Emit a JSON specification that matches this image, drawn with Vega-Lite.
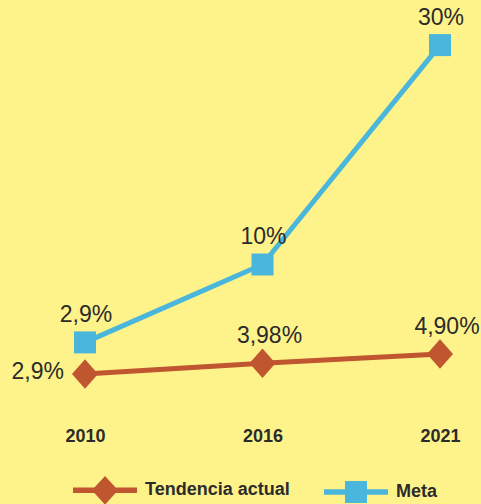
{
  "$schema": "https://vega.github.io/schema/vega-lite/v6.json",
  "autosize": {"type": "none"},
  "padding": {"left": 0, "top": 0, "right": 0, "bottom": 84},
  "width": 481,
  "height": 420,
  "background": "#FEF38A",
  "config": {
    "font": "Liberation Sans",
    "view": {"stroke": null}
  },
  "data": {
    "values": [
      {"anio": "2010", "serie": "Tendencia actual", "valor": 2.9, "etiqueta": "2,9%"},
      {"anio": "2016", "serie": "Tendencia actual", "valor": 3.98, "etiqueta": "3,98%"},
      {"anio": "2021", "serie": "Tendencia actual", "valor": 4.9, "etiqueta": "4,90%"},
      {"anio": "2010", "serie": "Meta", "valor": 2.9, "etiqueta": "2,9%"},
      {"anio": "2016", "serie": "Meta", "valor": 10, "etiqueta": "10%"},
      {"anio": "2021", "serie": "Meta", "valor": 30, "etiqueta": "30%"}
    ]
  },
  "layer": [
    {
      "transform": [{"filter": "datum.serie === 'Tendencia actual'"}],
      "encoding": {
        "x": {
          "field": "anio", "type": "ordinal",
          "scale": {"type": "point", "range": [85, 440], "padding": 0},
          "axis": {"title": null, "domain": false, "ticks": false, "labelAngle": 0, "labelFontSize": 18, "labelFontWeight": "bold", "labelColor": "#2B2B2B", "labelBaseline": "middle", "labelPadding": 16}
        },
        "y": {
          "field": "valor", "type": "quantitative",
          "scale": {"domain": [-1.7, 40.3], "zero": false, "nice": false},
          "axis": null
        }
      },
      "layer": [
        {
          "mark": {"type": "line", "strokeWidth": 5},
          "encoding": {
            "color": {"field": "serie", "type": "nominal", "scale": {"domain": ["Tendencia actual", "Meta"], "range": ["#C0562F", "#4BB6DC"]}}
          }
        },
        {
          "mark": {"type": "point", "filled": true, "opacity": 1, "size": 784, "shape": "M0,-1.05L0.93,0L0,1.05L-0.93,0Z"},
          "encoding": {
            "color": {
              "field": "serie", "type": "nominal",
              "scale": {"domain": ["Tendencia actual", "Meta"], "range": ["#C0562F", "#4BB6DC"]},
              "legend": {
                "title": null, "orient": "none", "legendX": 73, "legendY": 458, "direction": "horizontal",
                "symbolSize": 4096, "symbolStrokeWidth": 0, "labelOffset": 8, "columnPadding": 34, "padding": 0,
                "labelFontSize": 18, "labelFontWeight": "bold", "labelColor": "#2B2B2B", "labelLimit": 300,
                "symbolOpacity": 1, "symbolFillColor": "#C0562F",
                "encode": {
                  "symbols": {
                    "update": {
                      "shape": {"signal": "datum.value === 'Meta' ? 'M-1,-0.086H1V0.086H-1Z M-0.344,-0.344H0.344V0.344H-0.344Z' : 'M-1,-0.086H1V0.086H-1Z M0,-0.45L0.41,0L0,0.45L-0.41,0Z'"},
                      "fill": {"signal": "datum.value === 'Meta' ? '#4BB6DC' : '#C0562F'"},
                      "opacity": {"value": 1},
                      "fillOpacity": {"value": 1}
                    }
                  }
                }
              }
            }
          }
        },
        {
          "transform": [{"filter": "datum.anio === '2010'"}],
          "mark": {"type": "text", "fontSize": 23, "color": "#2B2B2B", "align": "right", "baseline": "middle", "dx": -21, "dy": -2},
          "encoding": {"text": {"field": "etiqueta"}}
        },
        {
          "transform": [{"filter": "datum.anio !== '2010'"}],
          "mark": {"type": "text", "fontSize": 23, "color": "#2B2B2B", "align": "center", "baseline": "alphabetic", "dx": 7, "dy": -20},
          "encoding": {"text": {"field": "etiqueta"}}
        }
      ]
    },
    {
      "transform": [{"filter": "datum.serie === 'Meta'"}],
      "encoding": {
        "x": {
          "field": "anio", "type": "ordinal",
          "scale": {"type": "point", "range": [85, 440], "padding": 0},
          "axis": {"title": null, "domain": false, "ticks": false, "labelAngle": 0, "labelFontSize": 18, "labelFontWeight": "bold", "labelColor": "#2B2B2B", "labelBaseline": "middle", "labelPadding": 16}
        },
        "y": {
          "field": "valor", "type": "quantitative",
          "scale": {"domain": [-4.175, 34.11], "zero": false, "nice": false},
          "axis": null
        }
      },
      "layer": [
        {
          "mark": {"type": "line", "strokeWidth": 5},
          "encoding": {
            "color": {"field": "serie", "type": "nominal", "scale": {"domain": ["Tendencia actual", "Meta"], "range": ["#C0562F", "#4BB6DC"]}}
          }
        },
        {
          "mark": {"type": "point", "filled": true, "opacity": 1, "size": 484, "shape": "square"},
          "encoding": {
            "color": {"field": "serie", "type": "nominal", "scale": {"domain": ["Tendencia actual", "Meta"], "range": ["#C0562F", "#4BB6DC"]}}
          }
        },
        {
          "mark": {"type": "text", "fontSize": 23, "color": "#2B2B2B", "align": "center", "baseline": "alphabetic", "dx": 1, "dy": -20},
          "encoding": {"text": {"field": "etiqueta"}}
        }
      ]
    }
  ],
  "resolve": {"scale": {"y": "independent"}}
}
